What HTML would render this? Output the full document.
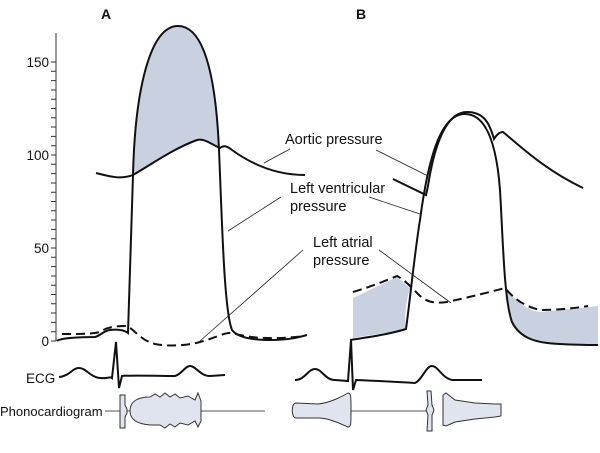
<!DOCTYPE html>
<html><head><style>
html,body{margin:0;padding:0;background:#fff;}
svg{display:block;}
text{font-family:"Liberation Sans",Arial,sans-serif;fill:#111;}
</style></head><body>
<svg width="600" height="453" viewBox="0 0 600 453" xmlns="http://www.w3.org/2000/svg">
<text x="101" y="19" font-size="14" font-weight="bold">A</text>
<text x="356" y="19" font-size="14" font-weight="bold">B</text>
<g stroke="#333" stroke-width="1" fill="none">
<line x1="56" y1="33" x2="56" y2="341"/>
<path d="M51 62H56M51 71.3H56M51 80.6H56M51 90H56M51 99.2H56M51 108.5H56M51 117.8H56M51 127H56M51 136.4H56M51 145.7H56M51 155H56M51 164.3H56M51 173.6H56M51 183H56M51 192.2H56M51 201.5H56M51 210.8H56M51 220H56M51 229.4H56M51 238.7H56M51 248H56M51 257.3H56M51 266.6H56M51 276H56M51 285.2H56M51 294.5H56M51 303.8H56M51 313H56M51 322.4H56M51 331.7H56M51 341H56"/>
</g>
<g font-size="13.5" text-anchor="end">
<text x="49" y="67">150</text><text x="49" y="160">100</text><text x="49" y="253">50</text><text x="49" y="346">0</text>
</g>
<path d="M133 175 C135 90 150 26 178 26 C205 26 216 80 219.5 147 C212 145 205 138 197 140 C175 148 155 162 133 175Z" fill="#c9d1e1"/>
<path d="M57 341 C60 338 80 337 95 337 C100 336 103 331 110 330 C118 329 124 330 128 333 L133 175 C135 90 150 26 178 26 C205 26 216 80 219 150 C222 220 224 310 232 330 C238 338 255 340 270 340 C290 340 300 337 307 335" fill="none" stroke="#111" stroke-width="2"/>
<path d="M96 173 C108 176 120 180 133 175 C155 162 175 148 197 140 C205 138 212 145 220 148 C224 145 227 146 232 150 C250 163 275 175 305 175" fill="none" stroke="#111" stroke-width="2"/>
<path d="M62 334 C80 334 92 334 100 332 C108 326 120 326 127 326 C135 330 140 340 155 344 C170 347 190 345 200 342 C215 338 225 332 232 333 C250 338 270 340 305 336" fill="none" stroke="#111" stroke-width="2" stroke-dasharray="9,5"/>
<path d="M353 298 L397 277 L410 288 C406 300 404 320 406 329 C390 333 370 335 353 338Z" fill="#c9d1e1"/>
<path d="M505 290 C520 302 525 310 540 312 L598 306 L598 345 C570 345 545 344 530 338 C512 330 508 315 505 290Z" fill="#c9d1e1"/>
<path d="M350 340 C370 337 390 334 406 329 C410 300 415 250 420 220 C428 160 440 115 464 114 C488 113 497 150 500 190 C503 240 504 300 512 322 C520 338 535 343 560 344 C580 345 590 345 598 345" fill="none" stroke="#111" stroke-width="2"/>
<path d="M393 179 L426 195 L428 186 C432 160 442 112 467 112 C485 112 490 125 494 139 C497 134 500 132 503 132 C520 146 545 170 583 188" fill="none" stroke="#111" stroke-width="2"/>
<path d="M353 292 C370 287 385 281 397 276 C405 280 412 288 418 294 C425 301 432 304 447 302 C470 297 490 292 505 288 C512 296 520 305 540 310 C560 310 575 308 588 306" fill="none" stroke="#111" stroke-width="2" stroke-dasharray="9,5"/>
<g stroke="#222" stroke-width="0.8">
<line x1="290" y1="149" x2="264" y2="163"/><line x1="376" y1="150" x2="428" y2="176"/>
<line x1="281" y1="197" x2="228" y2="231"/><line x1="369" y1="197" x2="420" y2="214"/>
<line x1="303" y1="250" x2="200" y2="341"/><line x1="379" y1="250" x2="451" y2="303"/>
</g>
<g font-size="14.5">
<text x="285" y="144">Aortic pressure</text>
<text x="290" y="193">Left ventricular</text>
<text x="290" y="211">pressure</text>
<text x="313" y="247">Left atrial</text>
<text x="313" y="265">pressure</text>
<text x="26" y="383" font-size="13.5">ECG</text>
<text x="0" y="416" font-size="13">Phonocardiogram</text>
</g>
<path d="M59 377 C70 376 72 368 79 368 C86 368 90 377 100 378 C108 379 110 376 112 378 L116 342 L119 388 L122 376 C130 375 165 376 175 376 C182 374 185 366 190 366 C196 366 200 376 210 376 L225 375" fill="none" stroke="#111" stroke-width="2"/>
<path d="M295 380 C305 380 308 369 315 369 C322 369 325 380 335 380 L348 381 L351 340 L353 390 L356 380 C380 381 400 382 415 383 C422 380 426 366 432 366 C438 366 442 378 452 380 L482 380" fill="none" stroke="#111" stroke-width="2"/>
<g stroke="#555" stroke-width="1">
<line x1="105" y1="411" x2="265" y2="411"/>
<line x1="350" y1="411" x2="428" y2="411"/>
</g>
<g fill="#dfe4ef" stroke="#333" stroke-width="1">
<path d="M120 395 L125 395 L125 405 L127 409 L127 413 L125 417 L125 428 L120 428Z"/>
<path d="M130 411 C130 400 140 397 150 397 L155 394 L160 397 L165 393 L170 397 L175 394 L180 398 L188 396 L195 400 L198 393 L201 401 L201 421 L198 427 L195 421 L188 425 L180 423 L175 427 L170 424 L165 428 L160 425 L150 425 C138 424 130 420 130 411Z"/>
<path d="M296 403 L318 404 C330 403 343 396 348 393 C351 393 351 396 351 410 C351 424 351 427 348 427 C343 425 330 418 318 418 L296 418 C291 418 291 403 296 403Z"/>
<path d="M427 391 L431 391 L432 405 L434 410 L432 415 L432 431 L427 431 L428 415 L426 410 L428 405Z"/>
<path d="M443 395 L446 393 L455 400 L475 403 L495 404 L501 404 L501 416 L495 417 L475 419 L455 422 L446 426 L443 425Z"/>
</g>
</svg>
</body></html>
